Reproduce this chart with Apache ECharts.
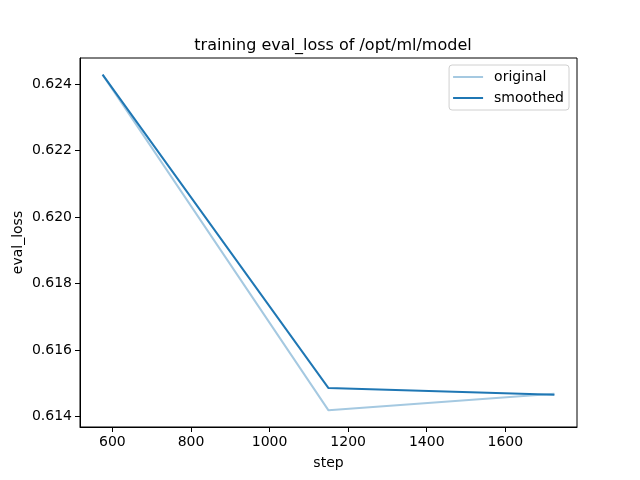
<!DOCTYPE html>
<html>
<head>
<meta charset="utf-8">
<script src="https://cdn.jsdelivr.net/npm/echarts@6/dist/echarts.min.js"></script>
<style>html,body{margin:0;padding:0;background:#fff}#c{width:640px;height:480px}</style>
</head>
<body>
<div id="c"></div>
<script>
var steps = [575, 1150, 1725];
var original = [0.62428, 0.61419, 0.61469];
var smoothed = [0.62428, 0.61486, 0.61466];
var xTicks = [600, 800, 1000, 1200, 1400, 1600];
var yTicks = [0.614, 0.616, 0.618, 0.620, 0.622, 0.624];

function pairs(xs, ys){ return xs.map(function(x,i){ return [x, ys[i]]; }); }

var font = 'DejaVu Sans';
var chart = echarts.init(document.getElementById('c'), null, {renderer:'canvas'});
chart.setOption({
  animation: false,
  backgroundColor: '#fff',
  title: {
    text: 'training eval_loss of /opt/ml/model',
    left: 328, top: 33, textAlign: 'center',
    textStyle: {fontFamily: font, fontSize: 16, fontWeight: 'normal', color: '#000'}
  },
  grid: {left: 80, right: 63, top: 58, bottom: 53, show: true, borderColor: '#000', borderWidth: 1},
  legend: {
    orient: 'vertical', right: 71, top: 65,
    data: [{name:'original', icon:'rect'}, {name:'smoothed', icon:'rect'}],
    itemWidth: 30, itemHeight: 2, itemGap: 7,
    padding: [5, 5, 5, 4],
    borderColor: '#d0d0d0', borderWidth: 1, borderRadius: 3,
    textStyle: {fontFamily: font, fontSize: 14, color: '#000', padding: [0,0,0,6]}
  },
  xAxis: {
    type: 'value', min: 517.5, max: 1782.5,
    name: 'step', nameLocation: 'middle', nameGap: 29,
    nameTextStyle: {fontFamily: font, fontSize: 14, color: '#000'},
    axisLine: {show: true, onZero: false, lineStyle: {color: '#000'}},
    axisTick: {show: true, customValues: xTicks, length: 5, lineStyle: {color: '#000'}},
    axisLabel: {customValues: xTicks, fontFamily: font, fontSize: 14, color: '#000', margin: 8,
      formatter: function(v){ return String(v); }},
    splitLine: {show: false}
  },
  yAxis: {
    type: 'value', min: 0.61369, max: 0.62478,
    name: 'eval_loss', nameLocation: 'middle', nameGap: 55, nameRotate: 90, nameMoveOverlap: false,
    nameTextStyle: {fontFamily: font, fontSize: 14, color: '#000'},
    axisLine: {show: true, onZero: false, lineStyle: {color: '#000'}},
    axisTick: {show: true, customValues: yTicks, length: 5, lineStyle: {color: '#000'}},
    axisLabel: {customValues: yTicks, fontFamily: font, fontSize: 14, color: '#000', margin: 8,
      formatter: function(v){ return v.toFixed(3); }},
    splitLine: {show: false}
  },
  series: [
    {name: 'original', type: 'line', data: pairs(steps, original), showSymbol: false, symbol: 'none',
     color: '#a5c9e1', lineStyle: {color: '#a5c9e1', width: 2}},
    {name: 'smoothed', type: 'line', data: pairs(steps, smoothed), showSymbol: false, symbol: 'none',
     color: '#1f77b4', lineStyle: {color: '#1f77b4', width: 2}}
  ]
});
</script>
</body>
</html>
